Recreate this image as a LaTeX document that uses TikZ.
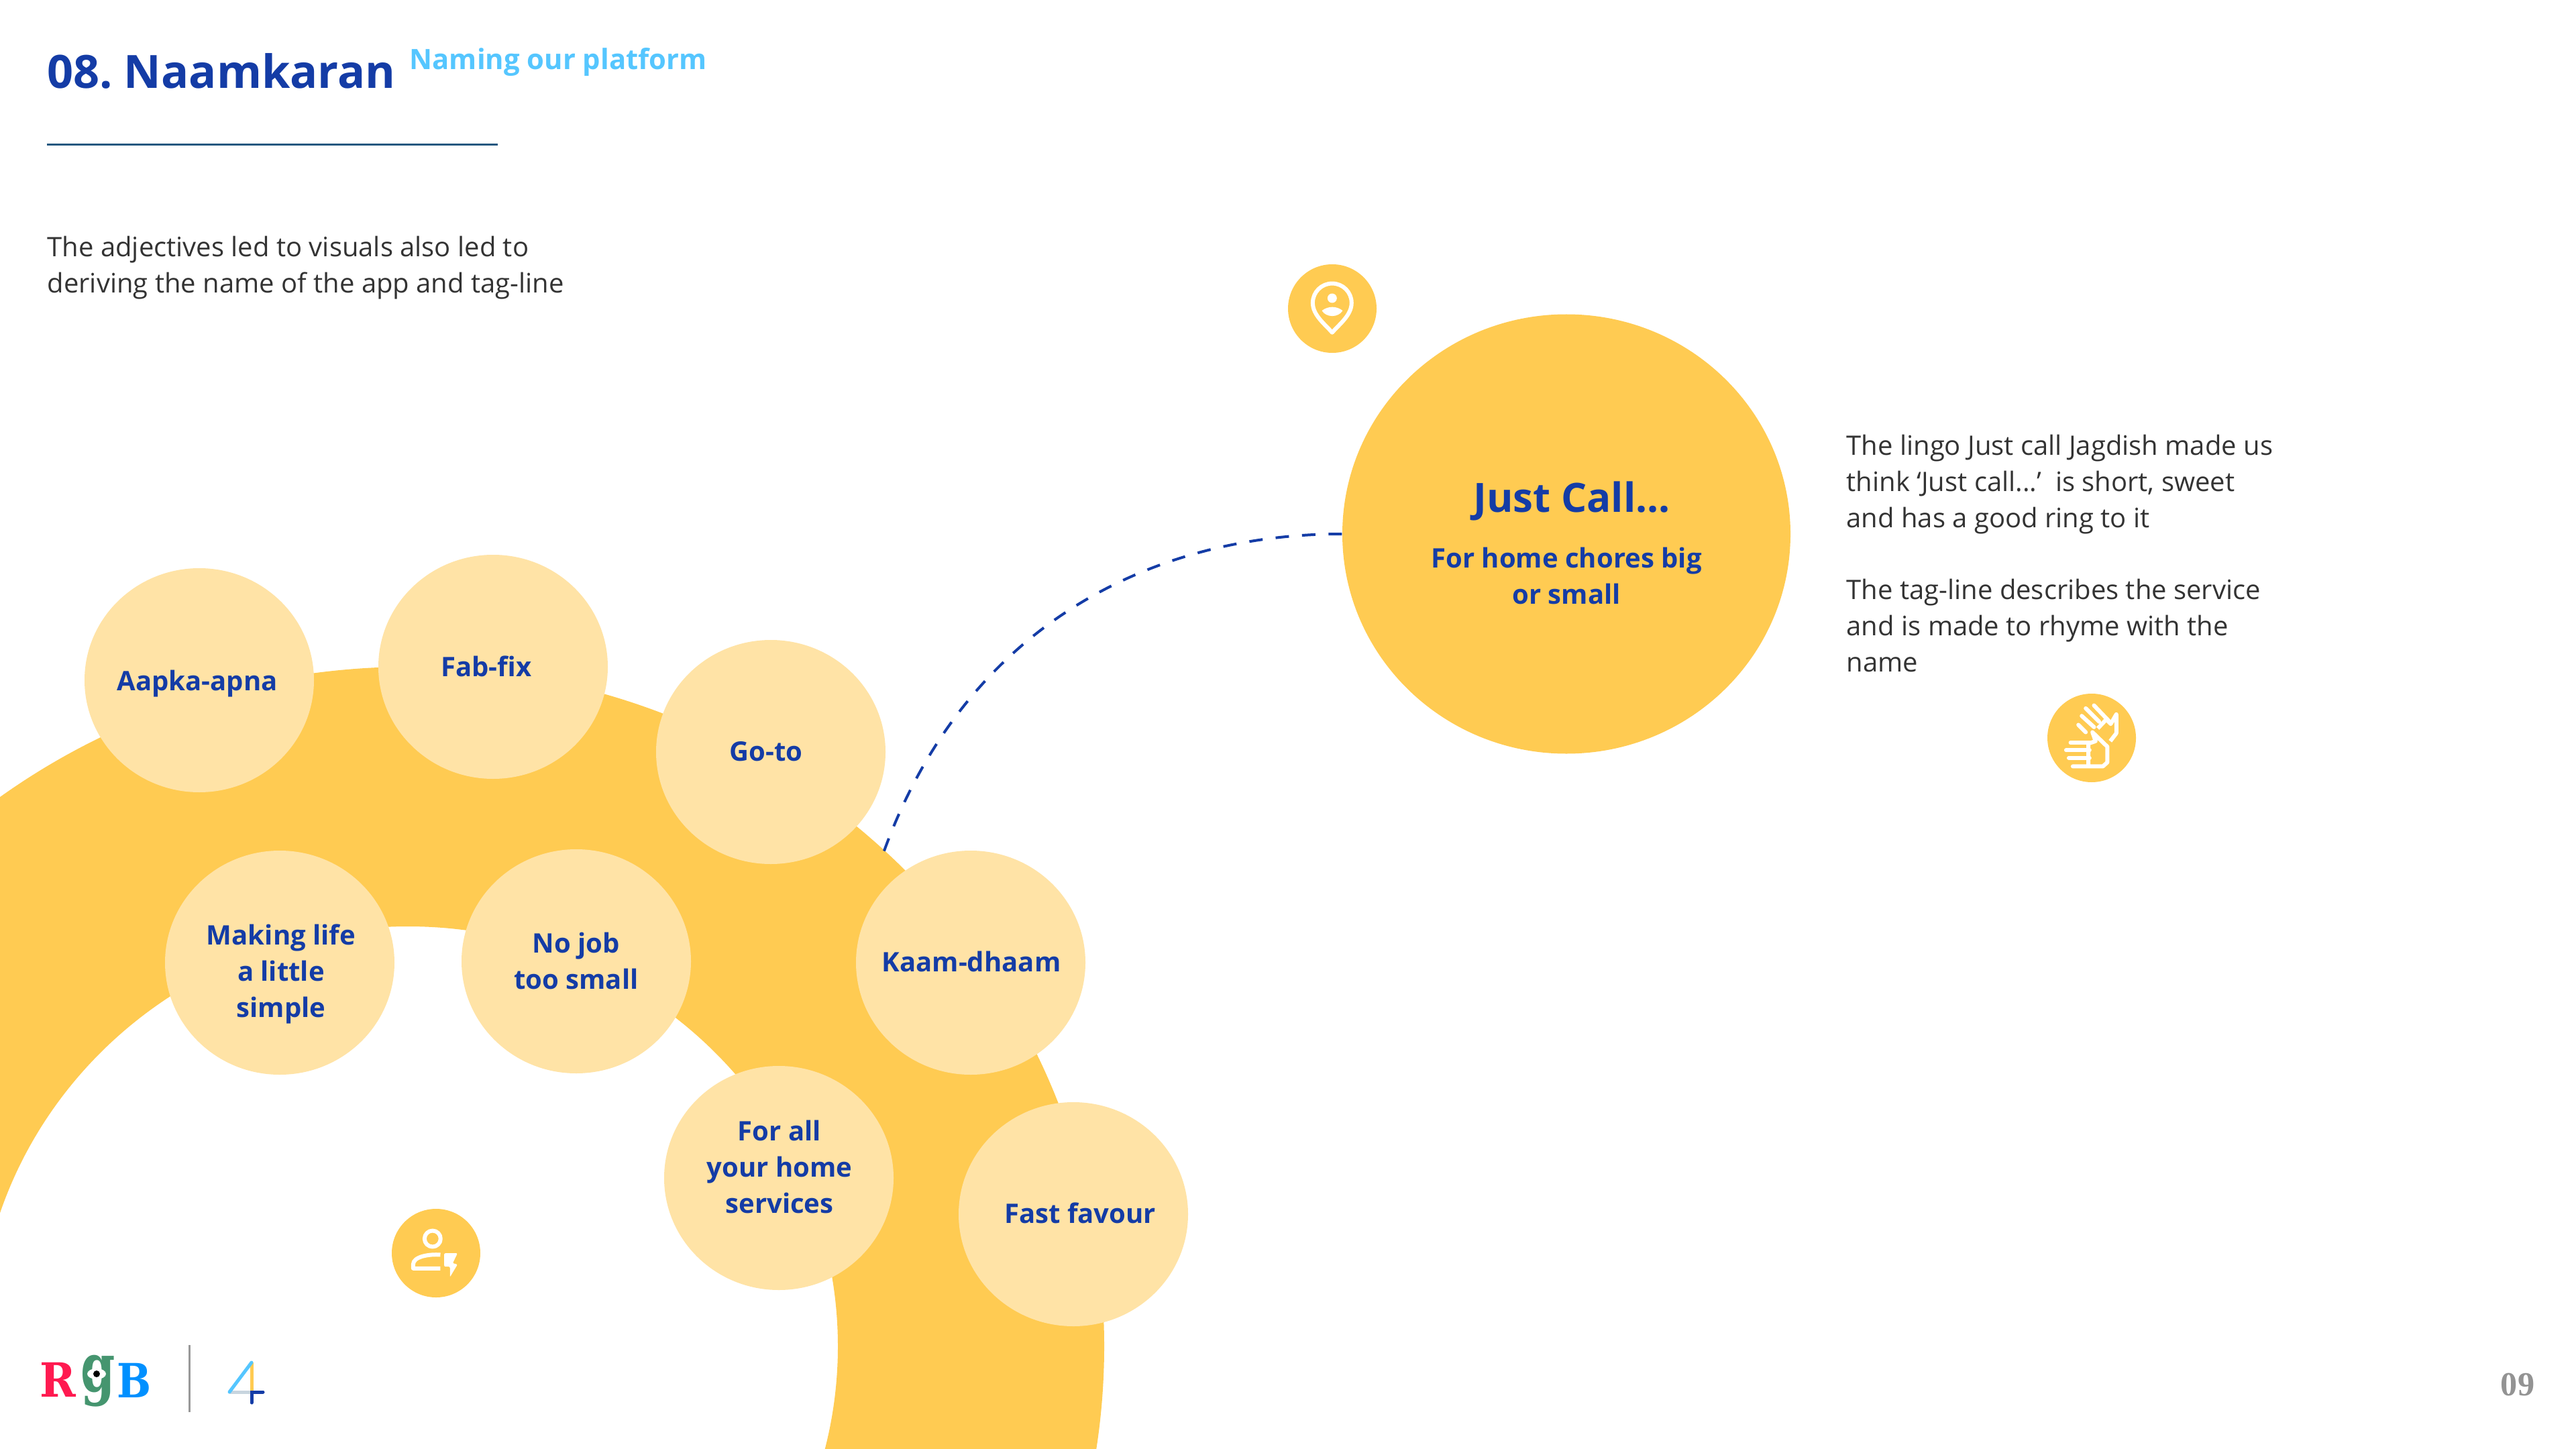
\documentclass[tikz,border=0pt]{standalone}
\usepackage{fontspec}
\setmainfont{Open Sans}
\newfontfamily\numfont{Liberation Serif}
\newfontfamily\logofont{DejaVu Serif}
\usetikzlibrary{positioning, shapes.geometric}
\definecolor{sunny}{HTML}{FFCB52}
\definecolor{pale}{HTML}{FFE3A6}
\definecolor{navy}{HTML}{143CA6}
\definecolor{sky}{HTML}{55C6FF}
\definecolor{ink}{HTML}{333333}
\definecolor{rulecol}{HTML}{22577F}
\begin{document}
\begin{tikzpicture}[
    idea/.style={ellipse, fill=pale, inner sep=0pt, minimum width=3.42cm, minimum height=3.34cm},
    ideatext/.style={text=navy, align=center, inner sep=0pt, font=\fontsize{11.4}{15.36}\selectfont\bfseries},
    badge/.style={circle, fill=sunny, inner sep=0pt, minimum size=1.32cm},
    bigidea/.style={ellipse, fill=sunny, inner sep=0pt, minimum width=6.68cm, minimum height=6.55cm},
    body/.style={anchor=west, align=left, inner sep=0pt, text=ink, font=\fontsize{11.38}{15.36}\selectfont},
    heading/.style={anchor=base west, inner sep=0pt, text=navy, font=\fontsize{19.45}{24}\selectfont\bfseries},
    linkdash/.style={navy, line width=0.04cm, dash pattern=on 0.2cm off 0.195cm},
    iconline/.style={white, line width=0.06cm, line cap=round, line join=round},
    logoletter/.style={inner sep=0pt, font=\logofont\fontsize{20}{24}\selectfont\bfseries}
]
    \useasboundingbox (0,0) rectangle (38.4,-21.6);
    \clip (0,0) rectangle (38.4,-21.6);

    % ring behind the name bubbles
    \fill[sunny, even odd rule] (6.10,-20.07) ellipse (10.36 and 10.13) (6.08,-20.07) ellipse (6.41 and 6.26);

    \node[heading] (title) at (0.7,-1.32) {08.\hspace{-0.07cm} Naamkaran};
    \node[heading, text=sky, font=\fontsize{11.9}{14}\selectfont\bfseries] (subtitle) at (6.1,-1.04) {Naming our platform};
    \draw[rulecol, line width=0.03cm] (0.7,-2.16) -- (7.42,-2.16);
    \node[body] (intro) at (0.7,-3.99) {The adjectives led to visuals also led to\\deriving the name of the app and tag-line};

    \node[idea] (aapka) at (2.97,-10.14) {};
    \node[idea] (fabfix) at (7.35,-9.94) {};
    \node[idea] (goto) at (11.49,-11.21) {};
    \node[idea] (making) at (4.17,-14.35) {};
    \node[idea] (nojob) at (8.59,-14.33) {};
    \node[idea] (kaam) at (14.47,-14.35) {};
    \node[idea] (forall) at (11.61,-17.56) {};
    \node[idea] (fast) at (16.0,-18.10) {};

    \node[ideatext] (aapkatext) at (2.94,-10.19) {Aapka-apna};
    \node[ideatext] (fabfixtext) at (7.25,-9.93) {Fab-fix};
    \node[ideatext] (gototext) at (11.42,-11.2) {Go-to};
    \node[ideatext] (makingtext) at (4.19,-14.52) {Making life\\a little\\simple};
    \node[ideatext] (nojobtext) at (8.59,-14.32) {No job\\too small};
    \node[ideatext] (kaamtext) at (14.48,-14.33) {Kaam-dhaam};
    \node[ideatext] (foralltext) at (11.62,-17.39) {For all\\your home\\services};
    \node[ideatext] (fasttext) at (16.1,-18.08) {Fast favour};

    \node[bigidea] (big) at (23.35,-7.96) {};
    \node[ideatext, font=\fontsize{17.1}{20}\selectfont\bfseries] (justcall) at (23.43,-7.47) {Just Call...};
    \node[ideatext] (tagline) at (23.35,-8.58) {For home chores big\\or small};
    \node[body] (lingo) at (27.52,-8.25) {The lingo Just call Jagdish made us\\think ‘Just call...’\ \ is short, sweet\\and has a good ring to it\\[15.36pt]The tag-line describes the service\\and is made to rhyme with the\\name};

    \coordinate (linkend) at (13.17,-12.71);
    \draw[linkdash] (big.west) .. controls (17.2,-7.96) and (14.4,-9.3) .. (linkend);

    % pin icon
    \node[badge] (pinbadge) at (19.86,-4.6) {};
    \begin{scope}[shift={(19.0,-3.7)}, x=0.003333cm, y=-0.003333cm]
        \draw[iconline] (258,378) .. controls (225,340) and (171,300) .. (171,245) arc (180:360:87) .. controls (345,300) and (291,340) .. cycle;
        \fill[white] (258,224) circle (21);
        \fill[white] (212,280) .. controls (240,258) and (278,258) .. (305,280) .. controls (285,312) and (232,312) .. cycle;
    \end{scope}

    % hands icon
    \node[badge] (handbadge) at (31.18,-11.0) {};
    \begin{scope}[shift={(30.2,-10.1)}, x=0.003333cm, y=-0.003333cm]
        \draw[iconline] (235,212) -- (268,245);
        \draw[iconline] (250,172) -- (305,222);
        \draw[iconline] (268,138) -- (328,198);
        \draw[iconline] (305,125) -- (372,195);
        \draw[iconline, line cap=butt] (322,228) -- (360,188) -- (380,208) -- (405,165) -- (405,250) -- (378,285);
        \draw[iconline] (200,292) -- (285,292);
        \draw[iconline] (180,326) -- (285,326);
        \draw[iconline] (192,360) -- (285,360);
        \draw[iconline] (210,398) -- (345,398) -- (365,380) -- (365,310) -- (298,245) -- (312,285) -- (280,296) -- (280,398);
    \end{scope}

    % person icon
    \node[badge] (personbadge) at (6.5,-18.68) {};
    \begin{scope}[shift={(5.6,-17.8)}, x=0.003333cm, y=-0.003333cm]
        \draw[iconline] (255,200) circle (36);
        \draw[iconline, line cap=butt] (290,272) .. controls (240,268) and (168,280) .. (168,315) -- (168,333) -- (290,333);
        \fill[white, rounded corners=0.02cm] (307,265) -- (367,265) -- (345,310) -- (367,315) -- (333,372) -- (333,325) -- (307,325) -- cycle;
    \end{scope}

    % footer
    \node[logoletter, text={rgb,255:red,255;green,26;blue,80}] (logor) at (0.86,-20.57) {\scalebox{0.92}[1]{R}};
    \node[logoletter, text={rgb,255:red,69;green,149;blue,111}, font=\logofont\fontsize{29}{32}\selectfont\bfseries] (logog) at (1.46,-20.59) {\scalebox{0.72}[1]{g}};
    \node[logoletter, text={rgb,255:red,0;green,144;blue,255}] (logob) at (2.0,-20.58) {\scalebox{0.86}[1]{B}};
    \fill[white] (1.44,-20.48) ellipse (0.14 and 0.08);
    \fill[black] (1.44,-20.48) circle (0.05);
    \draw[gray!80, line width=0.03cm] (2.82,-20.05) -- (2.82,-21.05);

    \coordinate (fourtop) at (3.75,-20.31);
    \coordinate (fourleft) at (3.42,-20.75);
    \coordinate (fourmid) at (3.75,-20.75);
    \draw[sunny, line width=0.05cm] (fourtop) -- (fourmid);
    \draw[rulecol!25, line width=0.05cm] (fourleft) -- (fourmid);
    \draw[sky, line width=0.05cm, line cap=round] (fourtop) -- (fourleft);
    \draw[navy, line width=0.05cm, line cap=round] (3.75,-20.91) -- (fourmid) -- (3.92,-20.75);

    \node[inner sep=0pt, text=gray!85, font=\numfont\fontsize{14.3}{16}\selectfont\bfseries] (pagenum) at (37.53,-20.64) {09};
\end{tikzpicture}
\end{document}
